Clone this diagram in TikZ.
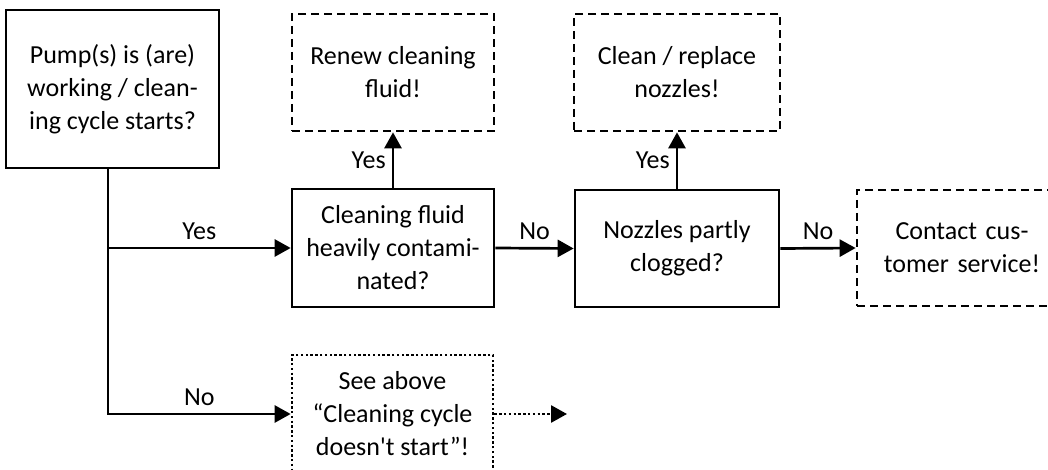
\documentclass[tikz,border=0pt]{standalone}
\usepackage{fontspec}
\setmainfont{Carlito}[Ligatures=TeXOff]
\usetikzlibrary{arrows.meta}
\begin{document}
\begin{tikzpicture}[x=1pt,y=-1pt,
  every node/.style={font=\fontsize{26}{33}\selectfont},
  box/.style={draw,line width=2.7pt,rectangle,align=center,inner sep=0pt},
  decision/.style={box},
  action/.style={box,dash pattern=on 8pt off 5pt},
  refbox/.style={box,dash pattern=on 2.4pt off 2.4pt},
  conn/.style={line width=2.7pt,-{Triangle[length=16pt,width=17pt]}},
  dotconn/.style={conn,dash pattern=on 2.4pt off 2.4pt},
  lbl/.style={inner sep=0pt}]
\useasboundingbox (0,0) rectangle (1048,470);
\clip (0,0) rectangle (1048,470);
\node[decision,minimum width=213pt,minimum height=158pt] (A) at (112.5,89) {Pump(s) is (are)\\working / clean-\\ing cycle starts?};
\node[decision,minimum width=202pt,minimum height=118pt] (B) at (393,248) {Cleaning fluid\\heavily contami-\\nated?};
\node[action,minimum width=202pt,minimum height=117pt] (R1) at (393,72.5) {Renew cleaning\\fluid!};
\node[decision,minimum width=204pt,minimum height=117pt] (C) at (677,248.5) {Nozzles partly\\clogged?};
\node[action,minimum width=206pt,minimum height=117pt] (R2) at (677,72.5) {Clean / replace\\nozzles!};
\node[action,minimum width=210pt,minimum height=116pt,text width=206pt] (D) at (962,248) {Contact cus-\\tomer service!};
\node[refbox,minimum width=201pt,minimum height=118pt] (E) at (392.5,414) {See above\\“Cleaning cycle\\doesn't start”!};
\coordinate (Eout) at (567,414);
\draw[conn] ([xshift=-4.5pt]A.south) |- node[lbl,pos=0.75,above=7pt]{Yes} (B.west);
\draw[conn] ([xshift=-4.5pt]A.south) |- node[lbl,pos=0.75,above=7pt]{No} (E.west);
\draw[conn] (B.north) -- node[lbl,left=6pt]{Yes} (R1.south);
\draw[conn] (B.east) -- node[lbl,above=7pt]{No} (C.west);
\draw[conn] (C.north) -- node[lbl,left=6pt]{Yes} (R2.south);
\draw[conn] (C.east) -- node[lbl,above=7pt]{No} (D.west);
\draw[dotconn] (E.east) -- (Eout);
\end{tikzpicture}
\end{document}
